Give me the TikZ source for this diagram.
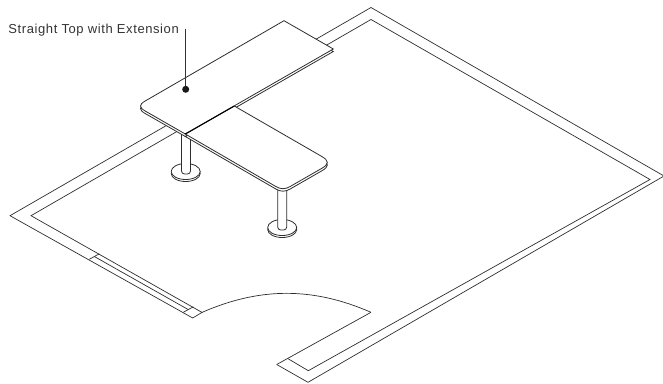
\documentclass[tikz,border=0pt]{standalone}
\usepackage{fontspec}
\newfontfamily\labelfont[LetterSpace=4.5]{Liberation Sans}
\definecolor{inkgray}{RGB}{45, 45, 45}
\usetikzlibrary{positioning}
\tikzset{
  wallline/.style={draw=inkgray, line width=0.7pt, line join=miter},
  tableedge/.style={draw=inkgray, fill=white, line width=0.8pt},
  legline/.style={draw=inkgray, fill=white, line width=0.8pt},
  leadline/.style={draw=black!80, line width=0.9pt},
  dotmark/.style={circle, fill=black!90, inner sep=0pt, minimum size=7pt},
  calllabel/.style={font=\labelfont\fontsize{13}{15}\selectfont, text=black!80, inner sep=0pt, anchor=west}
}
\newcommand{\straighttop}{(185.3,134) -- (145,110.9) .. controls (139,107.4) and (139,104.6) .. (145,101.1) -- (284,20.7) -- (333.3,49) -- cycle}
\newcommand{\extensiontop}{(234.3,106) -- (321.5,156.3) .. controls (329.3,160.8) and (329.3,164) .. (321.5,168.5) -- (290,186.6) .. controls (285.1,189.4) and (280.9,189.4) .. (276,186.6) -- (185.3,134) -- cycle}

\begin{document}
\begin{tikzpicture}[x=1pt, y=-1pt]
  \useasboundingbox (0,0) rectangle (663,383);

  % Walls
  \draw[wallline] (276.7,364.5) -- (308,382.3) -- (664,176) -- (371,7.5) -- (10,215.7) -- (192.7,318) -- (202,312.4) -- (31,215.7) -- (371,19.5) -- (650,179.5) -- (308.3,370.7) -- (287.7,358.5);
  \draw[wallline] (276.7,364.5) -- (371,312.3);

  % Window
  \draw[wallline] (89.3,259.3) -- (99.3,253.8);
  \draw[wallline] (94.3,256.5) -- (188.3,309.6);
  \draw[wallline] (183.3,312.3) -- (193.3,306.8);

  % Door swing
  \draw[wallline] (202,312.4) .. controls (260,287) and (313,287) .. (371,312.3);

  % First leg
  \draw[legline] (185.7,173.5) ellipse [x radius=14.5, y radius=8];
  \draw[legline] (185.7,171.5) ellipse [x radius=14.5, y radius=8];
  \draw[legline, rounded corners=3pt] (181.5,130) -- (181.5,174) -- (190.5,174) -- (190.5,130);

  % Second leg
  \draw[legline] (282.2,229.5) ellipse [x radius=14.5, y radius=8];
  \draw[legline] (282.2,227.5) ellipse [x radius=14.5, y radius=8];
  \draw[legline, rounded corners=3pt] (277.7,186) -- (277.7,230) -- (286.7,230) -- (286.7,186);

  % Edge thickness under both tops
  \draw[tableedge, yshift=-2.5pt] \straighttop;
  \draw[tableedge, yshift=-2.5pt] \extensiontop;

  % Extension
  \draw[tableedge] \extensiontop;

  % Straight top
  \draw[tableedge] \straighttop;
  \draw[draw=black, line width=1pt] (185.3,134) -- (234.3,106);

  % Callout
  \node[calllabel] (toplabel) at (8.3,30) {Straight Top with Extension};
  \node[dotmark] (topdot) at (185.7,89.3) {};
  \coordinate (leadend) at (185.7,29);
  \draw[leadline] (leadend) -- (topdot);
\end{tikzpicture}
\end{document}
